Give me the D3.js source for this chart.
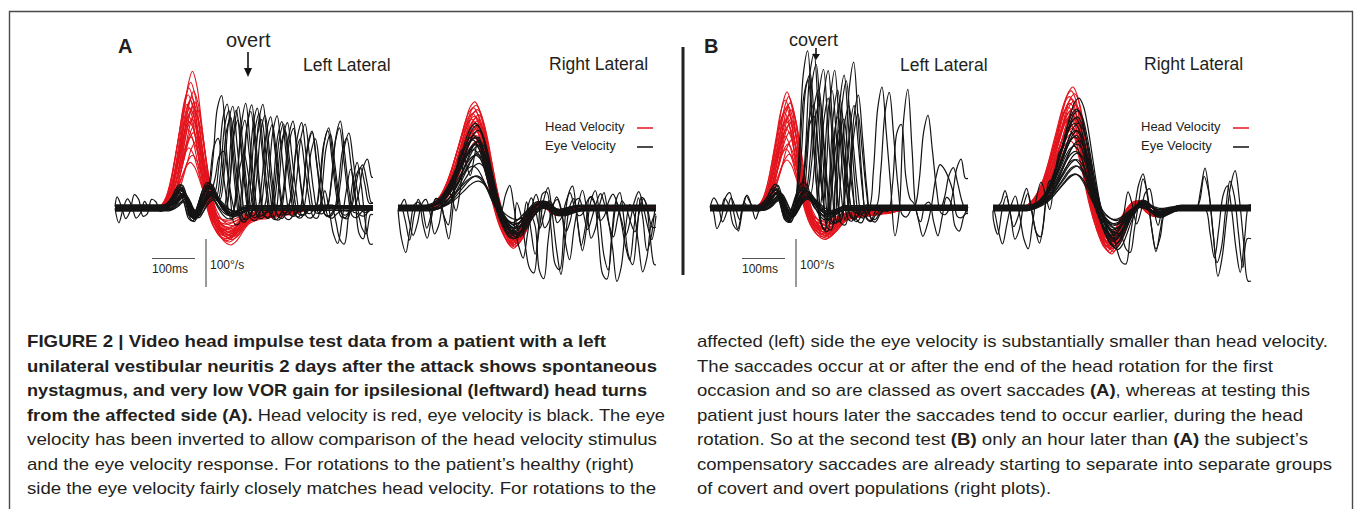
<!DOCTYPE html>
<html>
<head>
<meta charset="utf-8">
<script src="https://cdn.jsdelivr.net/npm/d3@7"></script>
<style>
  html, body { margin: 0; padding: 0; background: #fff; }
  svg { display: block; }
  text { font-family: "Liberation Sans", Arial, sans-serif; fill: #231f20; }
</style>
</head>
<body>
<svg id="fig" width="1355" height="509"></svg>
<script>
// every sampled array below is on a 10 ms grid, velocities in deg/s
const STEP = 10;
const T_END = 600;

// saccade velocity shape (normalised), peak at 30 ms
const saccadeShape = [0, 0.3, 0.82, 1, 0.62, 0.18, -0.08, -0.1, -0.04, 0];

// head impulse shapes (normalised to peak)
const headStartL = -70;
const headProfileL = [0, 0.03, 0.1, 0.24, 0.45, 0.68, 0.9, 1, 0.9, 0.66, 0.38, 0.12, -0.06, -0.17, -0.23, -0.26,
  -0.27, -0.25, -0.21, -0.16, -0.12, -0.1, -0.09, -0.08, -0.08, -0.07, -0.07, -0.06, -0.06, -0.05, -0.05, -0.04,
  -0.03, -0.02, -0.01, 0];
const headStartR = -110;
const headProfileR = [0, 0.02, 0.05, 0.1, 0.17, 0.27, 0.4, 0.55, 0.7, 0.85, 0.96, 1, 0.93, 0.75, 0.5, 0.24, 0.02,
  -0.15, -0.27, -0.35, -0.38, -0.34, -0.25, -0.14, -0.05, 0.02, 0.06, 0.05, 0.01, -0.04, -0.07, -0.07, -0.05,
  -0.03, -0.01, 0];

// low gain eye response on the lesioned side (deg/s), starts 60 ms before head peak
const eyeStartL = -60;
const eyeProfileL = [0, 5, 15, 30, 35, 15, -15, -20, 0, 25, 38, 35, 20, 5, -8, -15, -15, -10, -5, 0];

// ---- A, left lateral
const headPeaksAL = [285, 262, 250, 243, 236, 230, 225, 221, 216, 212, 208, 203, 198, 192, 186, 180, 172, 165, 157, 148, 138, 125, 110, 95];
const headLagsAL = [180, 176, 172, 183, 170, 178, 175, 185, 168, 181, 174, 177, 186, 171, 179, 173, 184, 169, 182, 176, 188, 172, 180, 175];
const eyeLagsAL = [178, 181, 175, 184, 179, 172, 186, 177, 182, 174, 180, 176, 183, 171, 185, 179, 173, 188, 176, 181, 178, 184, 170, 182];
const eyeGainAL = [1.0, 0.8, 1.2, 0.6, 0.9, 1.1, 0.7, 1.3, 0.85, 0.95, 0.5, 1.15, 0.75, 1.05, 0.65, 0.9, 1.25, 0.55, 1.0, 0.8, 1.1, 0.7, 0.95, 0.6];
const eyeOffsetAL = [0, 3, -4, 6, -2, 5, -6, 2, -3, 6, -5, 1, 4, -6, 3, -1, 5, -4, 2, -5, 4, -2, 0, 3];
// [trace, peak time ms, peak deg/s]
const saccadesAL = [
  [0, 251, 229], [0, 321, 215], [0, 391, 180], [0, 460, 160],
  [1, 256, 220], [1, 330, 205], [1, 400, 175],
  [2, 262, 225], [2, 335, 200], [2, 414, 170], [2, 495, 165],
  [3, 270, 215], [3, 344, 210], [3, 430, 172], [3, 519, 175],
  [4, 272, 205], [4, 352, 195], [4, 460, 160], [4, 540, 148],
  [5, 280, 210], [5, 360, 185], [5, 440, 170],
  [6, 286, 200], [6, 367, 180], [6, 470, 150], [6, 574, 96],
  [7, 291, 222], [7, 375, 190], [7, 495, 165], [7, 588, 100],
  [8, 300, 190], [8, 391, 178], [8, 519, 170],
  [9, 307, 212], [9, 410, 175], [9, 540, 150],
  [10, 244, 140], [10, 300, 120],
  [11, 320, 200], [11, 400, 160],
  [12, 250, 110],
  [13, 340, 190], [13, 430, 150], [13, 505, 160], [13, 574, 90]
];
const noiseAL = [
  { trace: 14, start: 0, v: [20, 0, -25, -10, 25, 15, -20, -15, 15, 10, -10, 0] },
  { trace: 15, start: 0, v: [-10, -30, 0, 20, 5, -20, -10, 15, 0] },
  { trace: 16, start: 500, v: [0, -30, -70, -80, -20, 50, 90, 40, -40, -80, -30] },
  { trace: 17, start: 480, v: [10, 40, 0, -50, -70, -20, 40, 85, 30, -50, -60, 0] },
  { trace: 3, start: 560, v: [0, -40, -60, -20, 30] }
];

// ---- A, right lateral
const headPeaksAR = [221, 214, 209, 205, 201, 197, 194, 191, 188, 185, 182, 179, 176, 173, 170, 167, 164, 160, 156, 151, 146, 140];
const headLagsAR = [179, 182, 176, 185, 180, 174, 188, 178, 183, 172, 186, 177, 181, 190, 175, 184, 179, 187, 173, 182, 178, 185];
const eyePeaksAR = [177, 168, 162, 157, 153, 149, 146, 143, 140, 137, 134, 131, 127, 123, 118, 112, 105, 96, 85, 72, 62, 58];
const eyeLagsAR = [181, 184, 178, 187, 182, 176, 189, 180, 185, 174, 188, 179, 183, 191, 177, 186, 181, 189, 175, 184, 180, 187];
const eyeOffsetAR = [0, 4, -3, 5, -5, 2, -6, 3, -2, 5, -4, 1, 6, -5, 3, -1, 5, -3, 2, -5, 4, -2];
const saccadesAR = [];
const noiseAR = [
  { trace: 2, start: 0, v: [-10, -60, -90, -40, 10, 15, -30, -60, -20, 15, 0, -50, -105, -60, 5, 10, -40, -85, -50] },
  { trace: 8, start: 0, v: [5, 20, -20, -55, -30, 10, 20, -10, -55, -40, 5, 20, -15, -60, -35, 10] },
  { trace: 14, start: 10, v: [0, -30, -70, -20, 15, -5, -45, -20, 10, 0, -40, -70, -25] },
  { trace: 5, start: 280, v: [60, 20, -60, -120, -140, -60, 20, 30, -40, -110, -120, -40, 30, 45, -20, -80, -40, 20, 10, -60, -140, -150, -70, 10, 30, -30, -100, -120, -50, 20, 10, -60, -120] },
  { trace: 11, start: 300, v: [30, -40, -100, -50, 10, 40, -10, -80, -130, -60, 5, 20, -40, -90, -40, 15, 35, -20, -100, -130, -50, 10, -30, -80, -110, -40, 20, -20, -90, -60, 0] },
  { trace: 17, start: 320, v: [-30, -130, -150, -70, 0, 30, 10, -60, -100, -40, 10, 40, 0, -60, -40, 10, 35, -20, -80, -150, -120, -40, 10, -10, -70, -130, -100, -30, -10] },
  { trace: 20, start: 250, v: [40, 65, 20, -30, -40, 0, 20, -10, -50, -20, 10, 5, -30, -20, 10, 30, 0, -20, -15, 10, 20, 0, -30, -20, 10, 25, 5, -30, -60, -30, 10, 30, 0, -40, -70, -20] },
  { trace: 0, start: 270, v: [20, -20, -60, -30, 10, 25, -10, -50, -30, 15, 30, 0, -40, -20, 15, 20, -10, -45, -20, 10, 30, 5, -35, -60, -20, 15, 0, -30, -50, -10, 20, -5, -40] }
];

// ---- B, left lateral
const headPeaksBL = [242, 232, 225, 219, 214, 209, 204, 199, 194, 189, 184, 178, 172, 165, 158, 150, 142, 133, 123, 112, 100];
const headLagsBL = [179, 183, 175, 186, 181, 177, 189, 173, 184, 180, 176, 187, 182, 178, 185, 174, 190, 181, 177, 184, 179];
const eyeLagsBL = [177, 182, 174, 185, 180, 173, 187, 178, 183, 175, 181, 176, 184, 172, 186, 179, 174, 188, 177, 182, 179, 185, 171, 183];
const eyeGainBL = [1.1, 0.8, 1.3, 0.6, 0.9, 1.2, 0.7, 1.4, 0.85, 1.0, 0.5, 1.15, 0.75, 1.05, 0.65, 0.9, 1.25, 0.55, 1.0, 0.8, 1.1, 0.7, 0.95, 0.6];
const eyeOffsetBL = [1, -3, 4, -5, 2, -5, 5, -2, 3, -6, 5, -1, -4, 6, -3, 1, -5, 4, -2, 5, -5, 2, 0, -4];
const saccadesBL = [
  [0, 226, 288], [0, 295, 250],
  [1, 244, 308], [1, 309, 280],
  [2, 263, 304], [2, 330, 300],
  [3, 274, 300], [3, 340, 240],
  [4, 286, 294], [4, 395, 250], [4, 458, 255],
  [5, 236, 260], [5, 300, 230],
  [6, 250, 280], [6, 320, 260], [6, 414, 236], [6, 505, 188],
  [7, 230, 220], [7, 295, 200],
  [8, 255, 240], [8, 320, 210],
  [9, 270, 250], [9, 335, 220], [9, 442, 200], [9, 542, 142],
  [10, 240, 200], [10, 310, 180],
  [11, 260, 230], [11, 565, 85],
  [12, 280, 260], [12, 345, 200], [12, 588, 106],
  [13, 245, 180], [13, 300, 160]
];
const noiseBL = [
  { trace: 14, start: 0, v: [30, 0, -40, -20, 25, 35, -10, -45, 0, 30, 10, -20] },
  { trace: 15, start: 0, v: [-10, 20, 5, -30, -10, 20, 0, -25, 10, 0] },
  { trace: 16, start: 20, v: [0, 25, 10, -30, -40, 0, 30, 15] },
  { trace: 4, start: 420, v: [0, -40, -60, -20, -10, -40, -55, -10, 30, 20, -30, -60, -20, 20, 10, -40, -50, -20] },
  { trace: 9, start: 440, v: [-20, -50, -10, 30, 0, -45, -30, 10, 25, -20, -55, -20, 15] }
];

// ---- B, right lateral
const headPeaksBR = [252, 244, 238, 232, 227, 222, 218, 214, 210, 206, 202, 198, 194, 190, 186, 182, 177, 172, 167, 161, 155, 148, 140];
const headLagsBR = [186, 182, 190, 178, 184, 188, 180, 193, 176, 185, 181, 189, 183, 179, 187, 175, 191, 182, 186, 178, 184, 188, 180];
const eyePeaksBR = [229, 210, 200, 192, 185, 178, 171, 165, 159, 153, 147, 141, 135, 128, 121, 114, 106, 98, 90, 82, 75, 68];
const eyeLagsBR = [200, 195, 198, 192, 196, 190, 199, 193, 197, 191, 194, 200, 189, 196, 192, 198, 190, 195, 193, 197, 191, 194];
const eyeOffsetBR = [0, -4, 3, -5, 5, -2, 6, -3, 2, -5, 4, -1, -6, 5, -3, 1, -5, 3, -2, 5, -4, 2];
const saccadesBR = [];
const noiseBR = [
  { trace: 3, start: 0, v: [0, -40, -70, -30, 10, 30, -10, -60, -80, -30, 20, 40, 0, -50, -20, 10] },
  { trace: 9, start: 0, v: [-20, -50, 0, 30, -10, -60, -40, 10, 35, -5, -55, -70, -20, 20] },
  { trace: 15, start: 20, v: [10, 35, 0, -40, -20, 15, 40, 0, -45, -80, -40, 10] },
  { trace: 6, start: 280, v: [0, -30, -60, -80, -40, 0, 40, 55, 10, -50, -90, -40] },
  { trace: 12, start: 300, v: [-20, -60, -80, -40, 10, 60, 35, -30, -70, -45, 0] },
  { trace: 18, start: 470, v: [0, 40, 85, 30, -60, -140, -100, -20, 50, 80, 20, -70, -150, -90] },
  { trace: 20, start: 480, v: [20, 70, 40, -40, -110, -80, 0, 60, 30, -50, -120, -60, 20] },
  { trace: 1, start: 490, v: [0, -50, -100, -40, 30, 50, 0, -80, -130, -60, 10] },
  { trace: 10, start: 300, v: [20, 50, 10, -40, -20, 20, 35, 0, -30, 0] }
];

// caption text, [text, bold]
const captionLeft = [
  [["FIGURE 2 | Video head impulse test data from a patient with a left", true]],
  [["unilateral vestibular neuritis 2 days after the attack shows spontaneous", true]],
  [["nystagmus, and very low VOR gain for ipsilesional (leftward) head turns", true]],
  [["from the affected side (A).", true], [" Head velocity is red, eye velocity is black. The eye", false]],
  [["velocity has been inverted to allow comparison of the head velocity stimulus", false]],
  [["and the eye velocity response. For rotations to the patient\u2019s healthy (right)", false]],
  [["side the eye velocity fairly closely matches head velocity. For rotations to the", false]]
];
const captionLeftWidths = [579, 630, 620, 638, 630, 607, 629];
const captionRight = [
  [["affected (left) side the eye velocity is substantially smaller than head velocity.", false]],
  [["The saccades occur at or after the end of the head rotation for the first", false]],
  [["occasion and so are classed as overt saccades ", false], ["(A)", true], [", whereas at testing this", false]],
  [["patient just hours later the saccades tend to occur earlier, during the head", false]],
  [["rotation. So at the second test ", false], ["(B)", true], [" only an hour later than ", false], ["(A)", true], [" the subject\u2019s", false]],
  [["compensatory saccades are already starting to separate into separate groups", false]],
  [["of covert and overt populations (right plots).", false]]
];
const captionRightWidths = [631, 576, 613, 606, 611, 635, 354];

// ------------------------------------------------------------------
const svg = d3.select("#fig");
const BASE = 208;      // zero velocity line
const PANEL_W = 258;   // 600 ms

const panels = [
  { x0: 115, headProfile: headProfileL, headStart: headStartL, headPeaks: headPeaksAL, headLags: headLagsAL,
    eyeProfile: eyeProfileL, eyeStart: eyeStartL, eyeGain: eyeGainAL, eyeLags: eyeLagsAL, eyeOffset: eyeOffsetAL,
    saccades: saccadesAL, noise: noiseAL },
  { x0: 398, headProfile: headProfileR, headStart: headStartR, headPeaks: headPeaksAR, headLags: headLagsAR,
    eyeProfile: headProfileR, eyeStart: headStartR, eyeGain: eyePeaksAR, eyeLags: eyeLagsAR, eyeOffset: eyeOffsetAR,
    saccades: saccadesAR, noise: noiseAR },
  { x0: 710, headProfile: headProfileL, headStart: headStartL, headPeaks: headPeaksBL, headLags: headLagsBL,
    eyeProfile: eyeProfileL, eyeStart: eyeStartL, eyeGain: eyeGainBL, eyeLags: eyeLagsBL, eyeOffset: eyeOffsetBL,
    saccades: saccadesBL, noise: noiseBL },
  { x0: 993, headProfile: headProfileR, headStart: headStartR, headPeaks: headPeaksBR, headLags: headLagsBR,
    eyeProfile: headProfileR, eyeStart: headStartR, eyeGain: eyePeaksBR, eyeLags: eyeLagsBR, eyeOffset: eyeOffsetBR,
    saccades: saccadesBR, noise: noiseBR }
];

function headTrace(p, i) {
  var lag = p.headLags[i], pk = p.headPeaks[i];
  var pts = [[0, 0]];
  p.headProfile.forEach(function (v, j) {
    var t = lag + p.headStart + j * STEP;
    if (t > 0 && t < T_END) pts.push([t, v * pk]);
  });
  pts.push([T_END, 0]);
  return pts;
}

// eye = offset + scaled response + saccades + noise, all on the trace's own 10 ms grid
function eyeTrace(p, i) {
  var lag = p.eyeLags[i], shift = lag % STEP, off = p.eyeOffset[i];
  var pts = [];
  for (var k = 0; shift + k * STEP <= T_END; k++) pts.push([shift + k * STEP, off]);
  p.eyeProfile.forEach(function (v, j) {
    var k = (lag + p.eyeStart + j * STEP - shift) / STEP;
    if (pts[k]) pts[k][1] += v * p.eyeGain[i];
  });
  p.saccades.filter(function (s) { return s[0] === i; }).forEach(function (s) {
    var k0 = Math.round((s[1] - 30 - shift) / STEP);
    saccadeShape.forEach(function (v, j) { if (pts[k0 + j]) pts[k0 + j][1] += v * s[2]; });
  });
  p.noise.filter(function (n) { return n.trace === i; }).forEach(function (n) {
    var k0 = Math.round((n.start - shift) / STEP);
    n.v.forEach(function (v, j) { if (pts[k0 + j]) pts[k0 + j][1] += v; });
  });
  if (shift > 0) pts.unshift([0, off]);
  if (pts[pts.length - 1][0] < T_END) pts.push([T_END, pts[pts.length - 1][1]]);
  return pts;
}

panels.forEach(function (p) {
  var x = d3.scaleLinear().domain([0, T_END]).range([p.x0, p.x0 + PANEL_W]);
  var y = d3.scaleLinear().domain([0, 100]).range([BASE, BASE - 48]);
  p.x = x; p.y = y;
  var line = d3.line()
    .x(function (d) { return x(d[0]); })
    .y(function (d) { return y(d[1]); })
    .curve(d3.curveCatmullRom.alpha(0.5));
  var g = svg.append("g");
  g.selectAll(".head")
    .data(p.headPeaks.map(function (_, i) { return headTrace(p, i); }))
    .join("path")
    .attr("class", "head")
    .attr("d", line)
    .attr("fill", "none")
    .attr("stroke", "#e3141d")
    .attr("stroke-width", 1.1);
  g.selectAll(".eye")
    .data(p.eyeLags.map(function (_, i) { return eyeTrace(p, i); }))
    .join("path")
    .attr("class", "eye")
    .attr("d", line)
    .attr("fill", "none")
    .attr("stroke", "#141414")
    .attr("stroke-width", 1.2);
});

// frame and divider
svg.append("path")
  .attr("d", "M9.5,515 V11.5 H1352.5 V515")
  .attr("fill", "none").attr("stroke", "#4a4a4a").attr("stroke-width", 1.4);
svg.append("line")
  .attr("x1", 683).attr("x2", 683).attr("y1", 47).attr("y2", 275)
  .attr("stroke", "#222").attr("stroke-width", 3);

// panel labels
function label(x, y, txt, size, weight) {
  return svg.append("text").attr("x", x).attr("y", y).attr("font-size", size)
    .attr("font-weight", weight || "normal").text(txt);
}
label(118, 53, "A", 20, "bold");
label(704, 53, "B", 20, "bold");
label(226, 47, "overt", 20);
label(789, 46, "covert", 18);
label(303, 71, "Left Lateral", 17.5);
label(549, 70, "Right Lateral", 17.5);
label(900, 71, "Left Lateral", 17.5);
label(1144, 70, "Right Lateral", 17.5);

// arrows
function arrow(x, y1, y2, head) {
  svg.append("line").attr("x1", x).attr("x2", x).attr("y1", y1).attr("y2", y2 - head + 1)
    .attr("stroke", "#111").attr("stroke-width", 1.6);
  svg.append("path")
    .attr("d", "M" + (x - 4) + "," + (y2 - head) + " L" + (x + 4) + "," + (y2 - head) + " L" + x + "," + y2 + "Z")
    .attr("fill", "#111");
}
arrow(248, 52, 77, 9);
arrow(816, 48, 60, 6);

// legends
[[545, 637], [1141, 1233]].forEach(function (l) {
  label(l[0], 131, "Head Velocity", 13);
  label(l[0], 150, "Eye Velocity", 13);
  svg.append("line").attr("x1", l[1]).attr("x2", l[1] + 16).attr("y1", 128).attr("y2", 128)
    .attr("stroke", "#e3141d").attr("stroke-width", 1.5);
  svg.append("line").attr("x1", l[1]).attr("x2", l[1] + 16).attr("y1", 147).attr("y2", 147)
    .attr("stroke", "#111").attr("stroke-width", 1.5);
});

// scale bars drawn with the panel scales
[[panels[0], 152, 206], [panels[2], 742, 796]].forEach(function (s) {
  var p = s[0];
  var w = p.x(100) - p.x(0), h = p.y(0) - p.y(100);
  svg.append("line").attr("x1", s[1]).attr("x2", s[1] + w).attr("y1", 258.5).attr("y2", 258.5)
    .attr("stroke", "#555").attr("stroke-width", 1.2);
  svg.append("line").attr("x1", s[2]).attr("x2", s[2]).attr("y1", 239).attr("y2", 239 + h)
    .attr("stroke", "#555").attr("stroke-width", 1.2);
  label(s[1], 273, "100ms", 12);
  label(s[2] + 4, 269, "100\u00b0/s", 12);
});

// caption
function captionLine(x, yb, width, segs) {
  var t = svg.append("text").attr("x", x).attr("y", yb).attr("font-size", 17)
    .attr("textLength", width).attr("lengthAdjust", "spacingAndGlyphs");
  segs.forEach(function (s) {
    t.append("tspan").attr("font-weight", s[1] ? "bold" : "normal").text(s[0]);
  });
}
captionLeft.forEach(function (segs, i) { captionLine(27, 347 + i * 24.5, captionLeftWidths[i], segs); });
captionRight.forEach(function (segs, i) { captionLine(697, 347 + i * 24.5, captionRightWidths[i], segs); });
</script>
</body>
</html>
